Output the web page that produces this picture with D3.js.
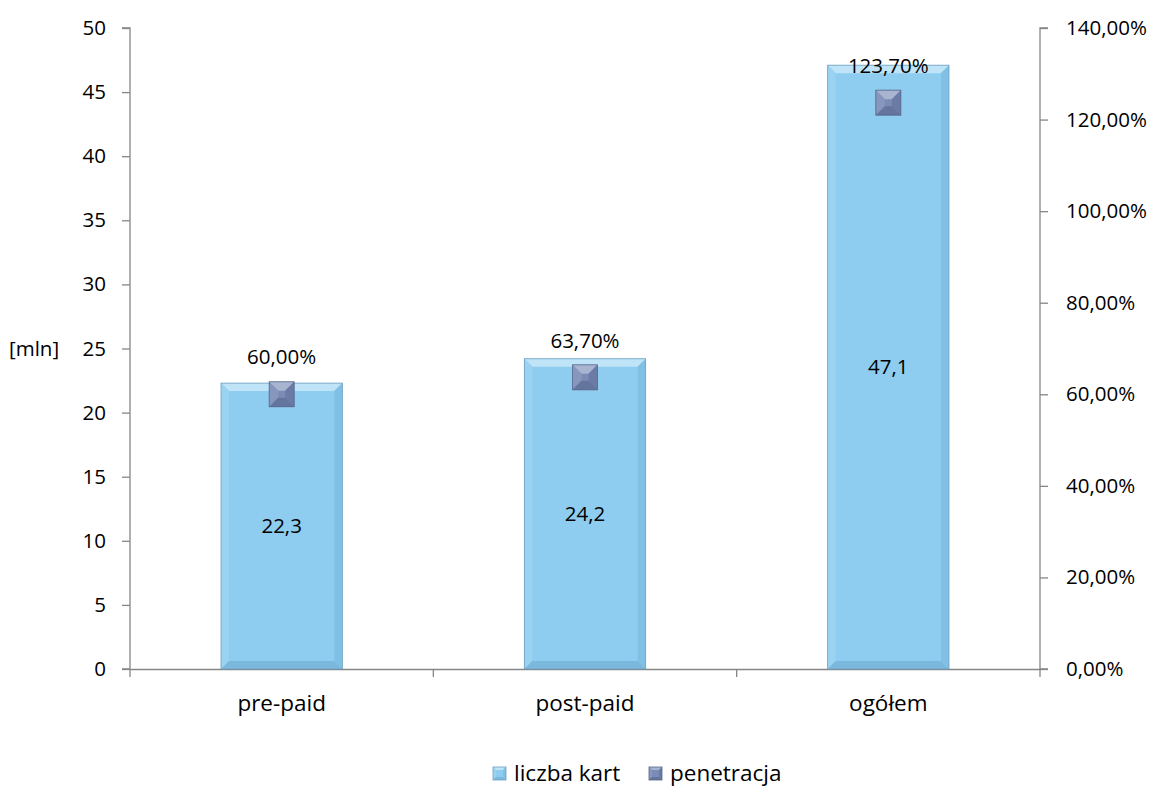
<!DOCTYPE html>
<html>
<head>
<meta charset="utf-8">
<script src="https://cdn.jsdelivr.net/npm/d3@7"></script>
<style>
  body { margin: 0; background: #fff; }
  svg text { font-family: "Open Sans", sans-serif; font-size: 20.5px; fill: #000; }
</style>
</head>
<body>
<div id="chart"></div>
<script>
// Data
const categories = ["pre-paid", "post-paid", "ogółem"];
const liczbaKart = [22.3, 24.2, 47.1];          // [mln]
const penetracja = [0.60, 0.637, 1.237];         // share
const leftTicks = [0, 5, 10, 15, 20, 25, 30, 35, 40, 45, 50];
const rightTicks = [0, 0.2, 0.4, 0.6, 0.8, 1.0, 1.2, 1.4];

const W = 1161, H = 791;
const plot = {left: 130, right: 1040, top: 28, bottom: 669};
const FONT = "'Open Sans', sans-serif", FS = "20.5px", FS_WORD = "22.5px";

const svg = d3.select("#chart").append("svg")
  .attr("width", W).attr("height", H);

const x = d3.scaleBand().domain(categories)
  .range([plot.left, plot.right]).paddingInner(0.6).paddingOuter(0.3);
const xOuter = d3.scaleBand().domain(categories).range([plot.left, plot.right]);
const y = d3.scaleLinear().domain([0, 50]).range([plot.bottom, plot.top]);
const y2 = d3.scaleLinear().domain([0, 1.4]).range([plot.bottom, plot.top]);

const fmtPct = v => d3.format(".2f")(v * 100).replace(".", ",") + "%";
const fmtNum = v => d3.format(".1f")(v).replace(".", ",");

// Left axis
const axL = svg.append("g").attr("transform", `translate(${plot.left},0)`)
  .call(d3.axisLeft(y).tickValues(leftTicks).tickSize(8).tickPadding(16));
// Right axis
const axR = svg.append("g").attr("transform", `translate(${plot.right},0)`)
  .call(d3.axisRight(y2).tickValues(rightTicks).tickSize(8).tickPadding(18).tickFormat(fmtPct));
// Bottom axis (ticks at category boundaries)
const axB = svg.append("g").attr("transform", `translate(0,${plot.bottom})`)
  .call(d3.axisBottom(xOuter).tickSize(0).tickPadding(26));
axB.selectAll(".tick line").remove();
const bounds = categories.map(c => xOuter(c)).concat([plot.right]);
axB.selectAll(".bound").data(bounds).enter().append("line")
  .attr("x1", d => d).attr("x2", d => d).attr("y1", 0).attr("y2", 8)
  .attr("stroke", "#868686").attr("stroke-width", 1.3);

[axL, axR, axB].forEach(a => {
  a.select(".domain").attr("stroke", "#868686").attr("stroke-width", 1.3);
  a.selectAll(".tick line").attr("stroke", "#868686").attr("stroke-width", 1.3);
  a.selectAll("text").attr("fill", "#000").style("font-size", FS).style("font-family", FONT);
});
axB.selectAll("text").style("font-size", FS_WORD);
axL.select(".domain").attr("d", `M-8,${plot.top}H0V${plot.bottom}H-8`);
axR.select(".domain").attr("d", `M8,${plot.top}H0V${plot.bottom}H8`);

// Axis unit label
svg.append("text").attr("x", 9).attr("y", y(25)).attr("dy", "0.35em").text("[mln]");

// Beveled rectangle helper
function bevel(g, x0, y0, w, h, b, c) {
  const x1 = x0 + w, y1 = y0 + h;
  g.append("rect").attr("x", x0).attr("y", y0).attr("width", w).attr("height", h).attr("fill", c.main);
  g.append("polygon").attr("points", [[x0, y0], [x1, y0], [x1 - b, y0 + b], [x0 + b, y0 + b]].join(" ")).attr("fill", c.top);
  g.append("polygon").attr("points", [[x0, y0], [x0 + b, y0 + b], [x0 + b, y1 - b], [x0, y1]].join(" ")).attr("fill", c.left);
  g.append("polygon").attr("points", [[x1, y0], [x1 - b, y0 + b], [x1 - b, y1 - b], [x1, y1]].join(" ")).attr("fill", c.right);
  g.append("polygon").attr("points", [[x0, y1], [x0 + b, y1 - b], [x1 - b, y1 - b], [x1, y1]].join(" ")).attr("fill", c.bottom);
  g.append("rect").attr("x", x0).attr("y", y0).attr("width", w).attr("height", h)
    .attr("fill", "none").attr("stroke", c.edge).attr("stroke-width", 0.8);
}

const barColors = {main: "#8ecdef", top: "#bfe4f7", left: "#9ad3f1", right: "#80c0e4", bottom: "#7ab9dd", edge: "#6e9fbd"};
const markColors = {main: "#7a8cb5", top: "#a9b5d0", left: "#8796bd", right: "#6a7ca6", bottom: "#64759d", edge: "#56668c"};

// Bars
const bars = svg.append("g");
categories.forEach((c, i) => {
  bevel(bars, x(c), y(liczbaKart[i]), x.bandwidth(), y(0) - y(liczbaKart[i]), 8, barColors);
});

// Bar value labels
svg.append("g").selectAll("text").data(liczbaKart).enter().append("text")
  .attr("x", (d, i) => x(categories[i]) + x.bandwidth() / 2)
  .attr("y", d => (y(0) + y(d)) / 2).attr("dy", "0.35em")
  .attr("text-anchor", "middle").text(fmtNum);

// Penetration markers
const ms = 25;
const marks = svg.append("g");
categories.forEach((c, i) => {
  const cx = x(c) + x.bandwidth() / 2, cy = y2(penetracja[i]);
  bevel(marks, cx - ms / 2, cy - ms / 2, ms, ms, 9, markColors);
});

// Penetration labels (kept inside the chart area)
svg.append("g").selectAll("text").data(penetracja).enter().append("text")
  .attr("x", (d, i) => x(categories[i]) + x.bandwidth() / 2)
  .attr("y", d => Math.max(y2(d) - 37, plot.top + 5)).attr("dy", "0.35em")
  .attr("text-anchor", "middle").text(fmtPct);

// Legend
const leg = svg.append("g").attr("transform", "translate(0,773)");
const legItems = [
  {name: "liczba kart", c: barColors, x: 493},
  {name: "penetracja", c: markColors, x: 649}
];
legItems.forEach(it => {
  const g = leg.append("g");
  bevel(g, it.x, -6, 13, 13, 3, it.c);
  g.append("text").attr("x", it.x + 21).attr("y", 0).attr("dy", "0.35em")
    .style("font-size", FS_WORD).text(it.name);
});
</script>
</body>
</html>
